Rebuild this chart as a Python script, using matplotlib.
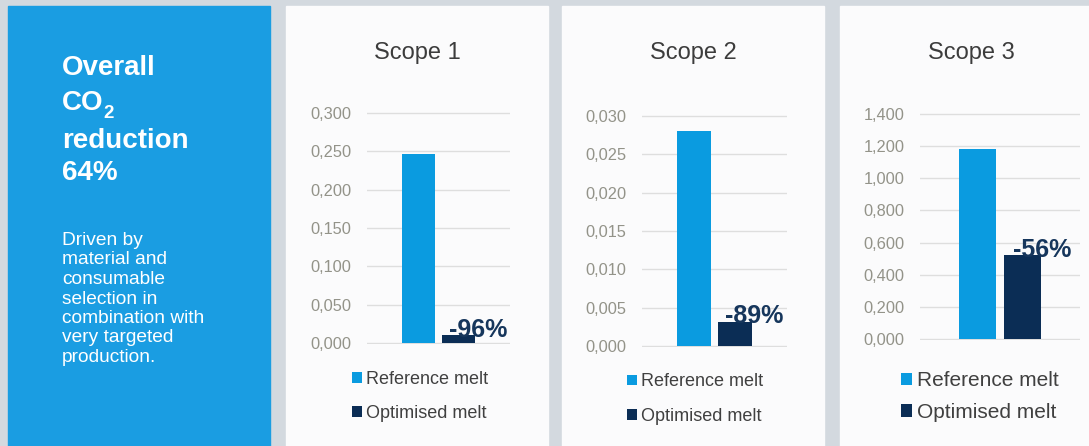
import numpy as np
import matplotlib.pyplot as plt
from matplotlib.patches import Rectangle

plt.rcParams['font.family'] = ['Liberation Sans', 'DejaVu Sans']

# data
series = ['Reference melt', 'Optimised melt']
scopes = ['Scope 1', 'Scope 2', 'Scope 3']
reference = [0.247, 0.028, 1.18]
optimised = [0.010, 0.0032, 0.52]
reduction = ['-96%', '-89%', '-56%']
y_max = [0.300, 0.030, 1.400]
y_step = [0.050, 0.005, 0.200]

intro = ['Driven by', 'material and', 'consumable', 'selection in',
         'combination with', 'very targeted', 'production.']

c_ref = '#0a9be0'
c_opt = '#0b2d55'
W, H = 1089, 446

def px(x0, y0, x1, y1):
  # pixel box (top-left origin) -> figure fraction
  return [x0 / W, 1 - y1 / H, (x1 - x0) / W, (y1 - y0) / H]

fig = plt.figure(figsize=(W / 100, H / 100), dpi=100)
fig.patch.set_facecolor('#d3d9df')

# panels
b = px(8, 6, 270, 446)
fig.add_artist(Rectangle(b[:2], b[2], b[3], transform=fig.transFigure,
                         color='#1a9de2', zorder=0))
white_panels = [(286, 548), (562, 824), (840, 1100)]
for x0, x1 in white_panels:
  b = px(x0, 6, x1, 446)
  fig.add_artist(Rectangle(b[:2], b[2], b[3], transform=fig.transFigure,
                           color='#fbfbfc', zorder=0))

# left text panel
fig.text(62 / W, 1 - 75 / H, 'Overall', color='white', fontsize=20, fontweight='bold', va='baseline')
fig.text(62 / W, 1 - 110 / H, 'CO', color='white', fontsize=20, fontweight='bold', va='baseline')
fig.text(103 / W, 1 - 118 / H, '2', color='white', fontsize=13.5, fontweight='bold', va='baseline')
fig.text(62 / W, 1 - 148 / H, 'reduction', color='white', fontsize=20, fontweight='bold', va='baseline')
fig.text(62 / W, 1 - 180 / H, '64%', color='white', fontsize=20, fontweight='bold', va='baseline')
for i, line in enumerate(intro):
  fig.text(62 / W, 1 - (245 + i * 19.5) / H, line, color='white', fontsize=13.8, va='baseline')

axes_px = [(367, 112, 510, 344), (642, 115, 787, 347), (920, 113, 1080, 340)]
legend_px = [(420, 396.5), (695, 399), (980, 396.5)]
legend_fs = [13, 13, 15]
legend_sp = [0.95, 0.95, 0.6]

for i in range(3):
  ax = fig.add_axes(px(*axes_px[i]))
  ax.set_facecolor('none')
  bars = ax.bar([-0.285, 0.285], [reference[i], optimised[i]], width=0.46,
                color=[c_ref, c_opt], zorder=3)
  ax.set_xlim(-1, 1)
  pad = y_max[i] * 0.004
  ax.set_ylim(-pad, y_max[i] + pad)
  ticks = np.arange(0, y_max[i] + y_step[i] / 2, y_step[i])
  ax.set_yticks(ticks)
  ax.set_yticklabels([f'{t:.3f}'.replace('.', ',') for t in ticks])
  ax.set_xticks([])
  for s in ax.spines.values():
    s.set_visible(False)
  ax.tick_params(axis='y', length=0, pad=11, labelsize=11.8, labelcolor='#939389')
  ax.grid(axis='y', color='#dedede', linewidth=1, zorder=0)
  ax.annotate(reduction[i], xy=(0.285, optimised[i]), xytext=(14, 4),
              textcoords='offset points', ha='center', va='center',
              fontsize=18, fontweight='bold', color='#16365c', zorder=4)

  cx = (white_panels[i][0] + white_panels[i][1]) / 2
  if i == 2:
    cx = 971
  fig.text(cx / W, 1 - 53 / H, scopes[i], ha='center', va='center',
           fontsize=17, color='#3c3c3c')

  lx, ly = legend_px[i]
  fig.legend(bars, series, loc='center', bbox_to_anchor=(lx / W, 1 - ly / H),
             bbox_transform=fig.transFigure, frameon=False, fontsize=legend_fs[i],
             handlelength=0.55, handleheight=0.55, handletextpad=0.25,
             labelspacing=legend_sp[i], labelcolor='#404040', borderpad=0)

fig.savefig('out.png', dpi=100)
